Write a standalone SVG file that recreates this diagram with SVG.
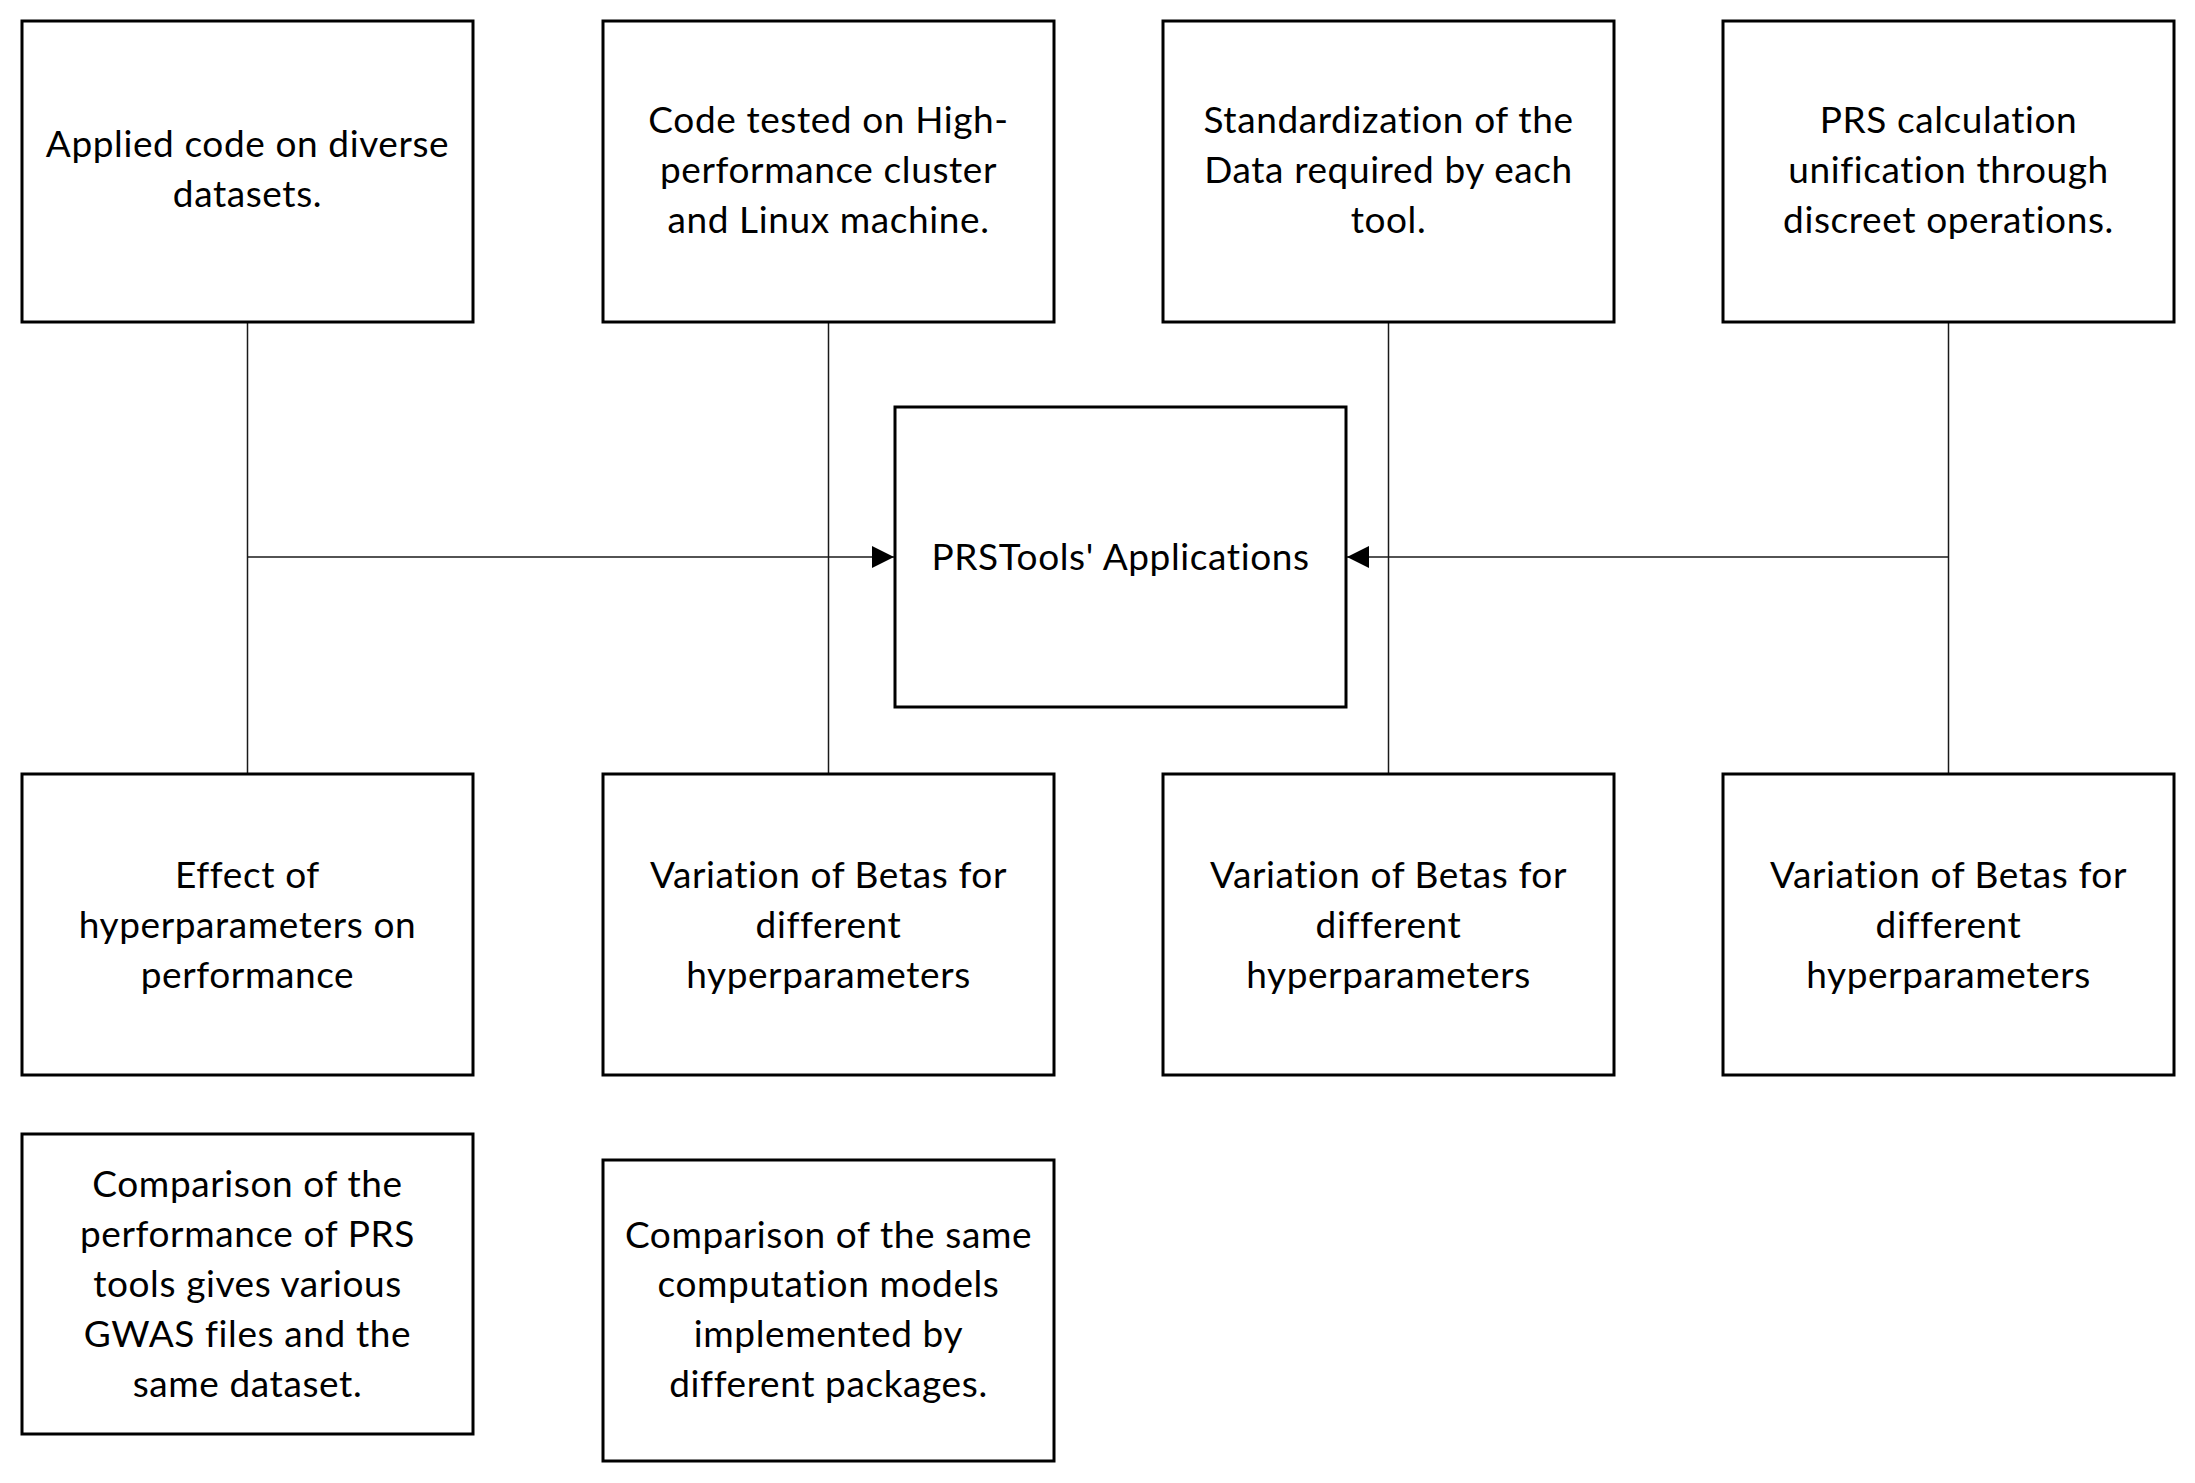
<svg xmlns="http://www.w3.org/2000/svg" width="2195" height="1483" viewBox="0 0 2195 1483">
<style>
.box{fill:#ffffff;stroke:#000000;stroke-width:3}
.t{font-family:Lato,"Open Sans","Liberation Sans",sans-serif;font-size:37px;letter-spacing:0.6px;fill:#000000;text-anchor:middle}
.c{fill:none;stroke:#1a1a1a;stroke-width:1.5}
</style>
<defs>
<marker id="ah" markerWidth="22" markerHeight="22" viewBox="0 0 22 22" refX="22" refY="11" orient="auto" markerUnits="userSpaceOnUse">
<path d="M0,0 L22,11 L0,22 Z" fill="#000000"/>
</marker>
</defs>
<rect width="2195" height="1483" fill="#ffffff"/>
<g id="connectors">
<line class="c" x1="247.5" y1="322" x2="247.5" y2="774"/>
<line class="c" x1="828.5" y1="322" x2="828.5" y2="774"/>
<line class="c" x1="1388.5" y1="322" x2="1388.5" y2="774"/>
<line class="c" x1="1948.5" y1="322" x2="1948.5" y2="774"/>
<line class="c" x1="247.5" y1="557" x2="894" y2="557" marker-end="url(#ah)"/>
<line class="c" x1="1948.5" y1="557" x2="1347" y2="557" marker-end="url(#ah)"/>
</g>
<g id="n1">
<rect class="box" x="22" y="21" width="451" height="301"/>
<text class="t" x="247.5" y="157">Applied code on diverse</text>
<text class="t" x="247.5" y="207">datasets.</text>
</g>
<g id="n2">
<rect class="box" x="603" y="21" width="451" height="301"/>
<text class="t" x="828.5" y="133">Code tested on High-</text>
<text class="t" x="828.5" y="183">performance cluster</text>
<text class="t" x="828.5" y="233">and Linux machine.</text>
</g>
<g id="n3">
<rect class="box" x="1163" y="21" width="451" height="301"/>
<text class="t" x="1388.5" y="133">Standardization of the</text>
<text class="t" x="1388.5" y="183">Data required by each</text>
<text class="t" x="1388.5" y="233">tool.</text>
</g>
<g id="n4">
<rect class="box" x="1723" y="21" width="451" height="301"/>
<text class="t" x="1948.5" y="133">PRS calculation</text>
<text class="t" x="1948.5" y="183">unification through</text>
<text class="t" x="1948.5" y="233">discreet operations.</text>
</g>
<g id="center">
<rect class="box" x="895" y="407" width="451" height="300"/>
<text class="t" x="1120.5" y="570">PRSTools' Applications</text>
</g>
<g id="n5">
<rect class="box" x="22" y="774" width="451" height="301"/>
<text class="t" x="247.5" y="888">Effect of</text>
<text class="t" x="247.5" y="938">hyperparameters on</text>
<text class="t" x="247.5" y="988">performance</text>
</g>
<g id="n6">
<rect class="box" x="603" y="774" width="451" height="301"/>
<text class="t" x="828.5" y="888">Variation of Betas for</text>
<text class="t" x="828.5" y="938">different</text>
<text class="t" x="828.5" y="988">hyperparameters</text>
</g>
<g id="n7">
<rect class="box" x="1163" y="774" width="451" height="301"/>
<text class="t" x="1388.5" y="888">Variation of Betas for</text>
<text class="t" x="1388.5" y="938">different</text>
<text class="t" x="1388.5" y="988">hyperparameters</text>
</g>
<g id="n8">
<rect class="box" x="1723" y="774" width="451" height="301"/>
<text class="t" x="1948.5" y="888">Variation of Betas for</text>
<text class="t" x="1948.5" y="938">different</text>
<text class="t" x="1948.5" y="988">hyperparameters</text>
</g>
<g id="n9">
<rect class="box" x="22" y="1134" width="451" height="300"/>
<text class="t" x="247.5" y="1197">Comparison of the</text>
<text class="t" x="247.5" y="1247">performance of PRS</text>
<text class="t" x="247.5" y="1297">tools gives various</text>
<text class="t" x="247.5" y="1347">GWAS files and the</text>
<text class="t" x="247.5" y="1397">same dataset.</text>
</g>
<g id="n10">
<rect class="box" x="603" y="1160" width="451" height="301"/>
<text class="t" x="828.5" y="1248">Comparison of the same</text>
<text class="t" x="828.5" y="1297">computation models</text>
<text class="t" x="828.5" y="1347">implemented by</text>
<text class="t" x="828.5" y="1397">different packages.</text>
</g>
</svg>
